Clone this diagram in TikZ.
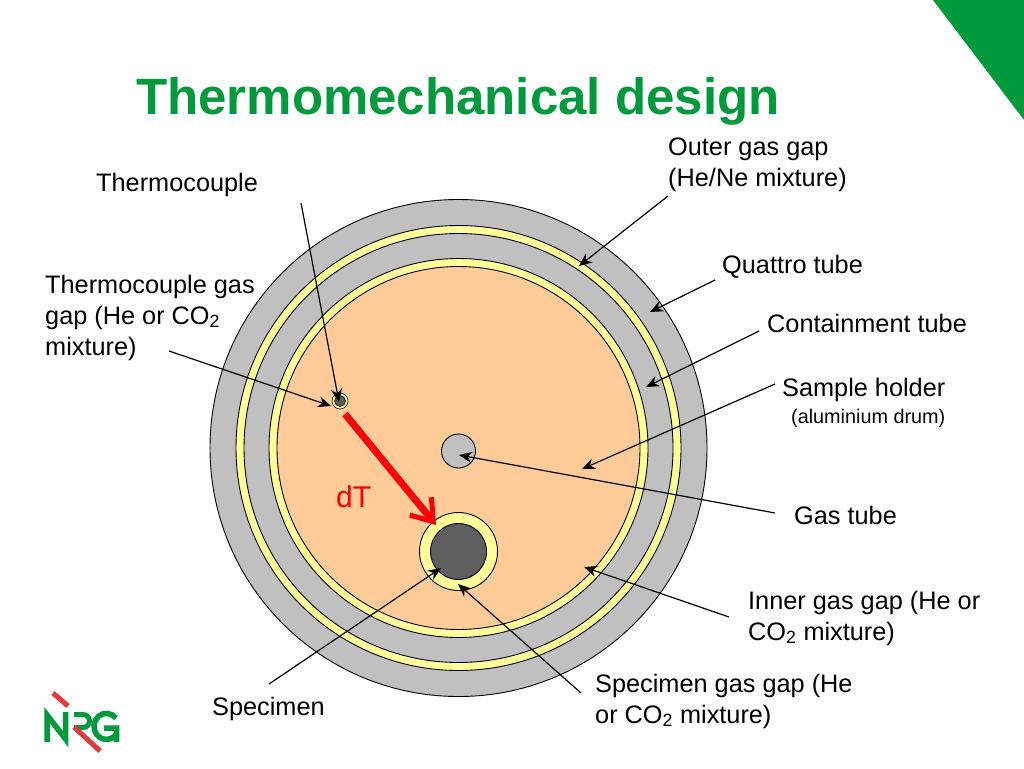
\documentclass[tikz,border=0pt]{standalone}
\usepackage{fontspec}
\setmainfont{Liberation Sans}
\usetikzlibrary{arrows.meta,positioning}
\definecolor{nrggreen}{HTML}{009A3D}
\definecolor{nrgred}{HTML}{E0393E}
\definecolor{tubegray}{HTML}{C0C0C0}
\definecolor{gasyellow}{HTML}{FFFF99}
\definecolor{drumorange}{HTML}{FFCC99}
\definecolor{specgray}{HTML}{5F5F5F}
\begin{document}
\begin{tikzpicture}[
	x=1pt,y=-1pt,
	ring/.style={draw=black,circle,inner sep=0pt,line width=0.9pt},
	callout/.style={anchor=base west,align=left,inner sep=0pt,font=\fontsize{25.3}{31}\selectfont},
	pointer/.style={-{Stealth[length=13pt,width=11pt]},line width=1.2pt}
	]
	\useasboundingbox (0,0) rectangle (1024,768);
	
	% Corner and title
	\fill[nrggreen] (933,0) -- (1024,0) -- (1024,120) -- cycle;
	\node[anchor=base west,inner sep=0pt,text=nrggreen,font=\fontsize{51}{60}\selectfont\bfseries] (title) at (136,114) {Thermomechanical design};
	
	% Tubes
	\node[ring,fill=tubegray,minimum size=497pt] (quattro) at (458.5,448) {};
	\node[ring,fill=gasyellow,minimum size=445pt] (outergap) at (458.5,448) {};
	\node[ring,fill=tubegray,minimum size=429pt] (containment) at (458.5,448) {};
	\node[ring,fill=gasyellow,minimum size=379pt] (innergap) at (458.5,448) {};
	\node[ring,fill=drumorange,minimum size=363pt] (holder) at (458.5,448) {};
	
	% Inserts
	\node[ring,fill=tubegray,minimum size=34pt] (gastube) at (458.5,451) {};
	\node[ring,fill=gasyellow,minimum size=78pt] (specgap) at (458.5,551.5) {};
	\node[ring,fill=specgray,minimum size=56pt] (specimen) at (458.5,551.5) {};
	\node[ring,fill=gasyellow,minimum size=16pt,line width=0.6pt] (tcgap) at (340,401) {};
	\node[ring,fill=specgray,minimum size=11pt,line width=0.6pt] (tc) at (340,401) {};
	
	% Labels
	\node[callout] (lbltc) at (96,191) {Thermocouple};
	\node[callout] (lbltcgap) at (45,355) {Thermocouple gas\\gap (He or CO\textsubscript{2}\\mixture)};
	\node[callout] (lblouter) at (668,186) {Outer gas gap\\(He/Ne mixture)};
	\node[callout] (lblquattro) at (722,273) {Quattro tube};
	\node[callout] (lblcontain) at (767,332) {Containment tube};
	\node[callout] (lblholder) at (782,396) {Sample holder};
	\node[callout,font=\fontsize{19.8}{22}\selectfont] (lbldrum) at (791,423) {(aluminium drum)};
	\node[callout] (lblgastube) at (794,524) {Gas tube};
	\node[callout] (lblinner) at (748,640) {Inner gas gap (He or\\CO\textsubscript{2} mixture)};
	\node[callout] (lblspecgap) at (595,723) {Specimen gas gap (He\\or CO\textsubscript{2} mixture)};
	\node[callout] (lblspec) at (212,715) {Specimen};
	\node[callout,text=red,font=\fontsize{30}{31}\selectfont] (lbldt) at (336,507) {dT};
	
	% Connector ends
	\coordinate (tcstart) at (301,203);
	\coordinate (tcend) at (339,402);
	\coordinate (gapstart) at (169,351);
	\coordinate (gapend) at (331,406);
	\coordinate (outerstart) at (668,196);
	\coordinate (outerend) at (579,266);
	\coordinate (quattrostart) at (715,280);
	\coordinate (quattroend) at (650,312);
	\coordinate (containstart) at (759,331);
	\coordinate (containend) at (646,387);
	\coordinate (holderstart) at (775,384);
	\coordinate (holderend) at (582,469);
	\coordinate (gastubestart) at (775,513);
	\coordinate (gastubeend) at (459,455);
	\coordinate (innerstart) at (729,617);
	\coordinate (innerend) at (584,567);
	\coordinate (specgapstart) at (581,693);
	\coordinate (specgapend) at (458,584);
	\coordinate (specstart) at (269,684);
	\coordinate (specend) at (441,568);
	\coordinate (dtstart) at (345,414);
	\coordinate (dtend) at (436,525);
	
	% Connections
	\draw[pointer] (tcstart) -- (tcend);
	\draw[pointer] (gapstart) -- (gapend);
	\draw[pointer] (outerstart) -- (outerend);
	\draw[pointer] (quattrostart) -- (quattroend);
	\draw[pointer] (containstart) -- (containend);
	\draw[pointer] (holderstart) -- (holderend);
	\draw[pointer] (gastubestart) -- (gastubeend);
	\draw[pointer] (innerstart) -- (innerend);
	\draw[pointer] (specgapstart) -- (specgapend);
	\draw[pointer] (specstart) -- (specend);
	\draw[-{Straight Barb[length=20pt,width=28pt,line width=5pt]},red,line width=7pt] (dtstart) -- (dtend);
	
	% Logo
	\draw[nrggreen,line width=5.5pt] (47,742) -- (47,715) -- (65.5,739) -- (65.5,712);
	\draw[nrggreen,line width=5pt] (74,714.5) -- (83,714.5) arc (-90:90:6.5) -- (74,727.5);
	\draw[nrgred,line width=5pt] (74,727) -- (100,751);
	\draw[nrgred,line width=5pt] (53,693) -- (68,706);
	\draw[nrggreen,line width=5.5pt] (116,718) arc (-40:-320:12.5 and 13) -- (116.5,742) -- (116.5,728) -- (104,728);
\end{tikzpicture}
\end{document}
